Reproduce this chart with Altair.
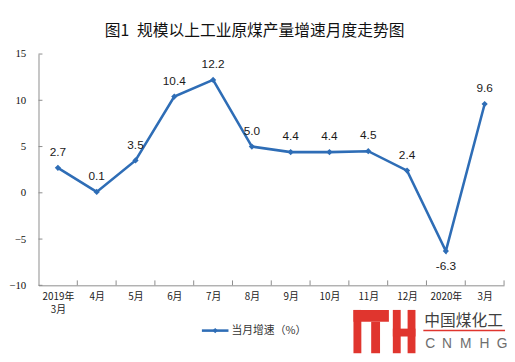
import json
import altair as alt
import pandas as pd

# ---- data ----
labels = ["2019年\n3月", "4月", "5月", "6月", "7月", "8月", "9月", "10月",
          "11月", "12月", "2020年", "3月"]
values = [2.7, 0.1, 3.5, 10.4, 12.2, 5.0, 4.4, 4.4, 4.5, 2.4, -6.3, 9.6]
value_text = ["2.7", "0.1", "3.5", "10.4", "12.2", "5.0", "4.4", "4.4", "4.5", "2.4", "-6.3", "9.6"]
series_name = "当月增速（%）"
y_ticks = [-10, -5, 0, 5, 10, 15]
title_text = "图1\u2002规模以上工业原煤产量增速月度走势图"

df = pd.DataFrame({
    "idx": list(range(len(labels))),
    "value": values,
    "txt": value_text,
})
xt_df = pd.DataFrame({"b": [i + 0.5 for i in range(len(labels))]})
yt_df = pd.DataFrame({"t": y_ticks})
one = pd.DataFrame({"k": [0]})

W, H = 473, 235
BLUE = "#2E6DB6"
AXIS_GRAY = "#8C8C8C"
RED = "#E0352E"

label_expr = "split(" + json.dumps(labels, ensure_ascii=False) + "[datum.value], '\\n')"

xscale = alt.Scale(domain=[-0.5, len(labels) - 0.5], nice=False, zero=False)
yscale = alt.Scale(domain=[-10, 15], nice=False)

base = alt.Chart(df)

line = base.mark_line(strokeWidth=2.6, color=BLUE).encode(
    x=alt.X("idx:Q", scale=xscale,
            axis=alt.Axis(title=None, values=list(range(len(labels))), labelExpr=label_expr,
                          ticks=False, grid=False, domainColor=AXIS_GRAY,
                          labelFont="Noto Sans CJK SC", labelFontSize=10, labelColor="#222",
                          labelPadding=6, labelLineHeight=14, labelBaseline="top")),
    y=alt.Y("value:Q", scale=yscale,
            axis=alt.Axis(title=None, values=y_ticks, ticks=False, grid=False,
                          domainColor=AXIS_GRAY, labelFont="Liberation Serif",
                          labelFontSize=11, labelColor="#111", labelPadding=13)),
)

points = base.mark_point(shape="diamond", filled=True, size=40, color=BLUE, opacity=1).encode(
    x=alt.X("idx:Q", scale=xscale), y=alt.Y("value:Q", scale=yscale))

lab_up = base.transform_filter("datum.value >= 0").mark_text(
    font="Liberation Sans", fontSize=12, color="#1a1a1a", dy=-16, baseline="middle").encode(
    x=alt.X("idx:Q", scale=xscale), y=alt.Y("value:Q", scale=yscale), text="txt:N")
lab_dn = base.transform_filter("datum.value < 0").mark_text(
    font="Liberation Sans", fontSize=12, color="#1a1a1a", dy=15, baseline="middle").encode(
    x=alt.X("idx:Q", scale=xscale), y=alt.Y("value:Q", scale=yscale), text="txt:N")

xticks = alt.Chart(xt_df).mark_rule(color=AXIS_GRAY, strokeWidth=1).encode(
    x=alt.X("b:Q", scale=xscale), y=alt.value(H), y2=alt.value(H - 5))
yticks = alt.Chart(yt_df).mark_rule(color=AXIS_GRAY, strokeWidth=1).encode(
    y=alt.Y("t:Q", scale=yscale), x=alt.value(0), x2=alt.value(4))

# ---- pixel helpers (page coords -> plot coords) ----
OX, OY = 39, 52
def px(v):
    return alt.value(v - OX)
def py(v):
    return alt.value(v - OY)

# ---- legend (line with diamond + label) ----
legend = [
    alt.Chart(one).mark_rule(color=BLUE, strokeWidth=2.6).encode(x=px(205), x2=px(232), y=py(333)),
    alt.Chart(one).mark_point(shape="diamond", filled=True, size=30, color=BLUE, opacity=1).encode(
        x=px(218.5), y=py(333)),
    alt.Chart(one).mark_text(text=series_name, font="Noto Sans CJK SC", fontSize=11, color="#333",
                             align="left", baseline="middle").encode(x=px(235), y=py(333)),
]

# ---- watermark (decoration) ----
deco = []
deco.append(alt.Chart(one).mark_rect(color="white").encode(
    x=px(352), x2=px(515), y=py(306), y2=py(362)))
logo_rects = [(359, 312, 367, 356), (359, 312, 395, 324), (377, 324, 386, 356),
              (399, 312, 407, 356), (414, 312, 422, 356), (399, 331, 422, 339)]
for (a, b, c, d) in logo_rects:
    deco.append(alt.Chart(one).mark_rect(color=RED).encode(
        x=px(a), x2=px(c), y=py(b), y2=py(d)))
deco.append(alt.Chart(one).mark_text(text="中国煤化工", font="Noto Sans CJK SC", fontSize=16,
                                     color="#404040", baseline="middle").encode(
    x=px(471), y=py(323)))
deco.append(alt.Chart(one).mark_rule(color=RED, strokeWidth=1.5).encode(
    x=px(430), x2=px(513), y=py(333)))
for ch, cx in zip("CNMHG", [437, 454, 473, 492, 510]):
    deco.append(alt.Chart(one).mark_text(text=ch, font="Liberation Sans", fontSize=14,
                                         color="#6e6e6e", baseline="middle").encode(
        x=px(cx), y=py(347)))

chart = alt.layer(line, points, lab_up, lab_dn, xticks, yticks, *legend, *deco).properties(
    width=W, height=H,
    title=alt.TitleParams(title_text, font="Noto Sans CJK SC", fontSize=16, fontWeight="normal",
                          color="#111", anchor="middle", dx=-17, offset=9),
    autosize=alt.AutoSizeParams(type="none"),
    padding={"left": 31, "top": 44, "right": 3, "bottom": 67},
).configure_view(stroke=None)

chart.save("out.html", embed_options={"renderer": "svg", "actions": False})
